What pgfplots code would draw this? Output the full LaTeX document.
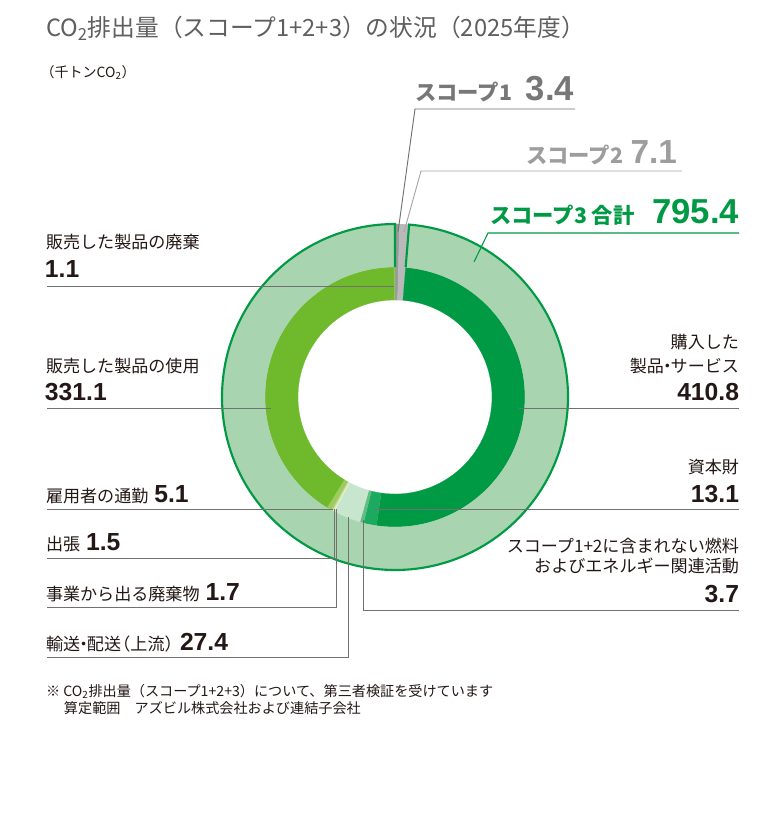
\documentclass[border=0pt]{standalone}
\usepackage{pgfplots}
\usepackage{pgfplotstable}
\pgfplotsset{compat=1.18}
\usetikzlibrary{calc}
\usepackage{fontspec}
\setmainfont{Noto Sans CJK JP}
\newfontfamily\numfont{Liberation Sans}

\definecolor{txt}{HTML}{231815}
\definecolor{ttl}{HTML}{5F5F5F}
\definecolor{lead}{HTML}{727171}
\definecolor{sone}{HTML}{9A9A9A}
\definecolor{stwo}{HTML}{B9B9B9}
\definecolor{sthr}{HTML}{A8D4AF}
\definecolor{gdark}{HTML}{009944}
\definecolor{cpur}{HTML}{009944}
\definecolor{ccap}{HTML}{1BAA60}
\definecolor{cfuel}{HTML}{62BD84}
\definecolor{ctra}{HTML}{C8E6CD}
\definecolor{cwas}{HTML}{E4F0C8}
\definecolor{ctrv}{HTML}{BCDB90}
\definecolor{ccom}{HTML}{9CCB5E}
\definecolor{cuse}{HTML}{6FB92C}
\definecolor{ceol}{HTML}{8DC556}

% inner ring: scope 1, scope 2 and the scope 3 categories (clockwise from top)
\pgfplotstableread{
value color
3.4   sone
7.1   stwo
410.8 cpur
13.1  ccap
3.7   cfuel
27.4  ctra
1.7   cwas
1.5   ctrv
5.1   ccom
331.1 cuse
1.1   ceol
}\innerring
% outer ring: scope totals
\pgfplotstableread{
value color
3.4   sone
7.1   stwo
795.4 sthr
}\outerring
\def\tot{805.9}

% radii in pt (1px = 0.75pt)
\def\rhole{72.75}
\def\rmid{97.5}
\def\rout{129.75}

\newcommand\slice[5]{% start, end, r in, r out, colour
  \edef\tmp{\noexpand\path[fill=#5, draw=#5, line width=0.15pt]
    ($(axis cs:395,397)+(#1:#4pt)$) arc[start angle=#1, end angle=#2, radius=#4pt]
    -- ($(axis cs:395,397)+(#2:#3pt)$) arc[start angle=#2, end angle=#1, radius=#3pt] -- cycle;}%
  \tmp}

\newcommand\ring[3]{% table, r in, r out
  \pgfplotstablegetrowsof{#1}\pgfmathtruncatemacro\nrows{\pgfplotsretval-1}%
  \xdef\ang{90}%
  \foreach \i in {0,...,\nrows}{%
    \pgfplotstablegetelem{\i}{value}\of#1\let\v\pgfplotsretval
    \pgfplotstablegetelem{\i}{color}\of#1\let\c\pgfplotsretval
    \pgfmathsetmacro\nxt{\ang-\v/\tot*360}%
    \slice{\ang}{\nxt}{#2}{#3}{\c}%
    \xdef\ang{\nxt}%
  }}

\newcommand\lab{\fontsize{12.8}{15}\selectfont\color{txt}}
\newcommand\val{\numfont\bfseries\fontsize{18.5}{20}\selectfont\color{txt}}
\newcommand\gap{\hspace{4.5pt}}
% narrow punctuation
\newcommand\lp{\kern-0.45em（}
\newcommand\rp{）\kern-0.45em}
\newcommand\dt{\kern-0.3em・\kern-0.3em}

\begin{document}
\begin{tikzpicture}[every node/.style={inner sep=0pt, outer sep=0pt}]
\begin{axis}[
  width=584.25pt, height=619.5pt, scale only axis,
  xmin=0, xmax=779, ymin=0, ymax=826, y dir=reverse,
  hide axis, clip=false,
]
\addplot[fill=white, draw=none] coordinates {(0,0) (779,0) (779,826) (0,826) (0,0)};

% donut
\ring{\innerring}{\rhole}{\rmid}
\ring{\outerring}{\rmid}{\rout}
\draw[gdark, line width=1.6pt]
  ($(axis cs:395,397)+(85.309:\rmid pt)$) -- ($(axis cs:395,397)+(85.309:\rout pt)$)
  arc[start angle=85.309, end angle=-270, radius=\rout pt]
  -- ($(axis cs:395,397)+(90:\rmid pt)$);

% leader lines
\draw[lead, line width=0.7pt] (axis cs:575,109) -- (axis cs:415,109) -- (axis cs:398,232);
\draw[stwo!90!black, line width=0.7pt] (axis cs:682,171) -- (axis cs:421,171) -- (axis cs:404,232);
\draw[gdark, line width=0.8pt] (axis cs:739,233) -- (axis cs:488,233) -- (axis cs:474,262);
\draw[lead, line width=0.7pt] (axis cs:47,286) -- (axis cs:394,286);
\draw[lead, line width=0.7pt] (axis cs:47,408) -- (axis cs:271,408);
\draw[lead, line width=0.7pt] (axis cs:47,509) -- (axis cs:333,509);
\draw[lead, line width=0.7pt] (axis cs:47,558) -- (axis cs:334,558) -- (axis cs:334,509);
\draw[lead, line width=0.7pt] (axis cs:47,607) -- (axis cs:336,607) -- (axis cs:336,509);
\draw[lead, line width=0.7pt] (axis cs:47,657) -- (axis cs:348,657) -- (axis cs:348,517);
\draw[lead, line width=0.7pt] (axis cs:519,408) -- (axis cs:739,408);
\draw[lead, line width=0.7pt] (axis cs:375,509) -- (axis cs:739,509);
\draw[lead, line width=0.7pt] (axis cs:739,610) -- (axis cs:363,610) -- (axis cs:363,520);

% title
\node[anchor=base west, text=ttl, font=\fontsize{17.8}{20}\selectfont]
  at (axis cs:46,36) {CO\textsubscript{2}排出量（スコープ1+2+3）の状況（2025年度）};
\node[anchor=base west, text=txt, font=\fontsize{10.5}{12}\selectfont]
  at (axis cs:47,77) {\lp 千トンCO\textsubscript{2}\rp};

% scope labels
\node[anchor=base west, text=ttl!85, font=\fontsize{16}{18}\selectfont\bfseries]
  at (axis cs:415,100) {スコープ1};
\node[anchor=base east, text=ttl!85, font=\numfont\bfseries\fontsize{26}{28}\selectfont]
  at (axis cs:574,100) {3.4};
\node[anchor=base west, text=stwo!85!black, font=\fontsize{16}{18}\selectfont\bfseries]
  at (axis cs:526,163) {スコープ2};
\node[anchor=base east, text=stwo!85!black, font=\numfont\bfseries\fontsize{25}{27}\selectfont]
  at (axis cs:677,163) {7.1};
\node[anchor=base west, text=gdark, font=\fontsize{16}{18}\selectfont\bfseries]
  at (axis cs:490,223) {スコープ3 合計};
\node[anchor=base east, text=gdark, font=\numfont\bfseries\fontsize{26}{28}\selectfont]
  at (axis cs:739,223) {795.4};

% left labels
\node[anchor=base west] at (axis cs:46,248) {\lab 販売した製品の廃棄};
\node[anchor=base west] at (axis cs:45,277) {\val 1.1};
\node[anchor=base west] at (axis cs:46,372) {\lab 販売した製品の使用};
\node[anchor=base west] at (axis cs:45,400) {\val 331.1};
\node[anchor=base west] at (axis cs:46,502) {\lab 雇用者の通勤\gap\val 5.1};
\node[anchor=base west] at (axis cs:46,550) {\lab 出張\gap\val 1.5};
\node[anchor=base west] at (axis cs:46,600) {\lab 事業から出る廃棄物\gap\val 1.7};
\node[anchor=base west] at (axis cs:46,650) {\lab 輸送\dt 配送\lp 上流\rp\gap\val 27.4};

% right labels
\node[anchor=base east] at (axis cs:739,348) {\lab 購入した};
\node[anchor=base east] at (axis cs:739,372) {\lab 製品\dt サービス};
\node[anchor=base east] at (axis cs:739,400) {\val 410.8};
\node[anchor=base east] at (axis cs:739,473) {\lab 資本財};
\node[anchor=base east] at (axis cs:739,502) {\val 13.1};
\node[anchor=base east] at (axis cs:739,552) {\lab スコープ1+2に含まれない燃料};
\node[anchor=base east] at (axis cs:739,572) {\lab およびエネルギー関連活動};
\node[anchor=base east] at (axis cs:739,602) {\val 3.7};

% footnote
\node[anchor=base west, text=txt, font=\fontsize{10.6}{12}\selectfont]
  at (axis cs:46,696) {※ CO\textsubscript{2}排出量（スコープ1+2+3）について、第三者検証を受けています};
\node[anchor=base west, text=txt, font=\fontsize{10.6}{12}\selectfont]
  at (axis cs:64,713) {算定範囲　アズビル株式会社および連結子会社};
\end{axis}
\end{tikzpicture}
\end{document}
